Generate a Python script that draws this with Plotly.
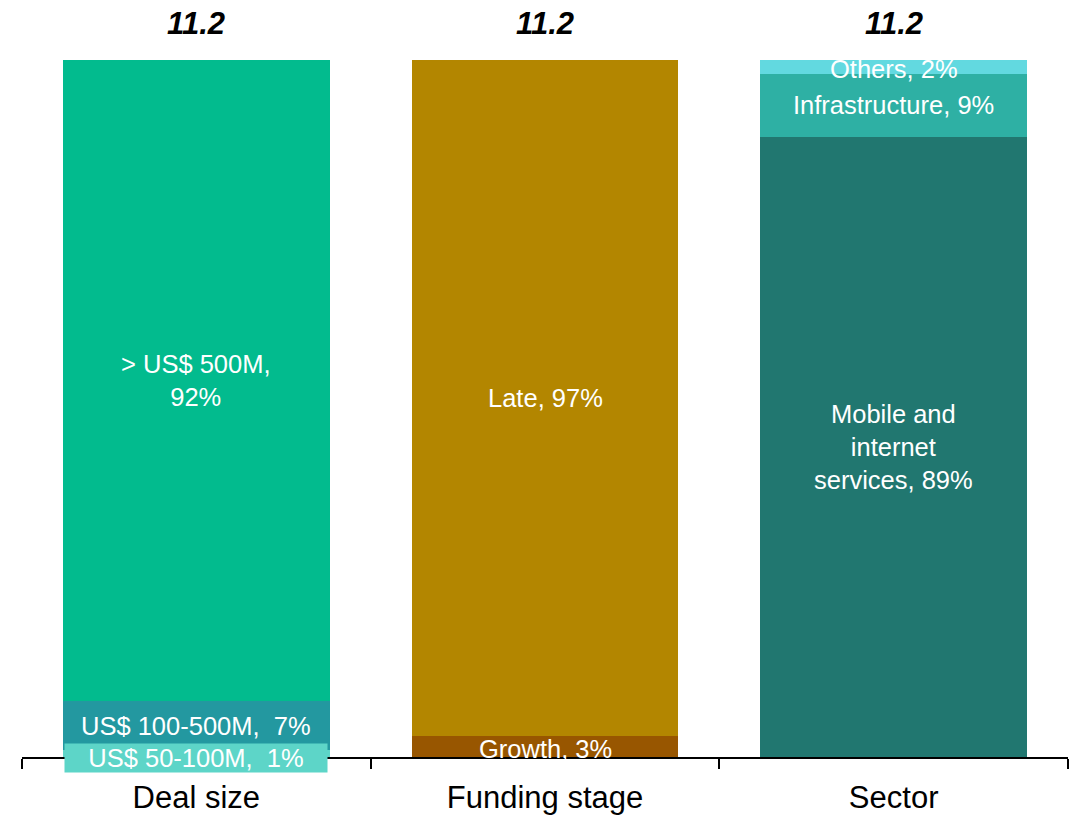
import plotly.graph_objects as go

categories = ["Deal size", "Funding stage", "Sector"]
totals = ["11.2", "11.2", "11.2"]

# segments per category, bottom to top: (label, share %)
deal_labels = ["US$ 50-100M,  1%", "US$ 100-500M,  7%", "> US$ 500M,<br>92%"]
deal_values = [1, 7, 92]
deal_colors = ["#5DD5C8", "#2398A0", "#02BB8E"]

funding_labels = ["Growth, 3%", "Late, 97%"]
funding_values = [3, 97]
funding_colors = ["#985600", "#B38600"]

sector_labels = ["Mobile and<br>internet<br>services, 89%", "Infrastructure, 9%", "Others, 2%"]
sector_values = [89, 9, 2]
sector_colors = ["#217770", "#2EB0A4", "#62D9E0"]

groups = [
    (categories[0], deal_labels, deal_values, deal_colors),
    (categories[1], funding_labels, funding_values, funding_colors),
    (categories[2], sector_labels, sector_values, sector_colors),
]

label_font = dict(family="Liberation Sans, Arial, sans-serif", size=25.5, color="white")

fig = go.Figure()
annotations = []
for cat, labels, values, colors in groups:
    base = 0
    for lab, val, col in zip(labels, values, colors):
        fig.add_trace(go.Bar(
            x=[cat], y=[val], marker=dict(color=col, line=dict(width=0)),
            showlegend=False, hoverinfo="skip",
        ))
        ann = dict(x=cat, y=base + val / 2, xref="x", yref="y", text=lab,
                   showarrow=False, font=label_font, align="center")
        if lab.startswith("US$ 50-100M"):
            ann.update(bgcolor="#5DD5C8", width=262, borderpad=0, yshift=-4)
        if lab.startswith("Growth"):
            ann.update(yshift=-2)
        if lab.startswith("Others"):
            ann.update(yshift=-2)
        annotations.append(ann)
        base += val

for cat, tot in zip(categories, totals):
    annotations.append(dict(
        x=cat, y=100, xref="x", yref="y", text="<b><i>" + tot + "</i></b>",
        showarrow=False, yanchor="middle", yshift=37,
        font=dict(family="Liberation Sans Narrow, Arial Narrow, Liberation Sans, sans-serif",
                  size=31, color="black"),
    ))

fig.update_layout(
    barmode="stack",
    bargap=0.235,
    width=1081, height=815,
    margin=dict(l=22, r=13, t=60, b=58),
    paper_bgcolor="white", plot_bgcolor="white",
    annotations=annotations,
    xaxis=dict(
        automargin=False,
        showline=True, linecolor="black", linewidth=2,
        ticks="outside", tickson="boundaries", ticklen=10, tickwidth=2, tickcolor="black",
        ticklabelstandoff=12,
        tickfont=dict(family="Liberation Sans, Arial, sans-serif", size=31, color="black"),
        showgrid=False, zeroline=False,
    ),
    yaxis=dict(range=[0, 100], visible=False, showgrid=False, zeroline=False),
)

fig.write_html("out.html", config={"displayModeBar": False},
               post_script="document.body.style.margin='0';")
